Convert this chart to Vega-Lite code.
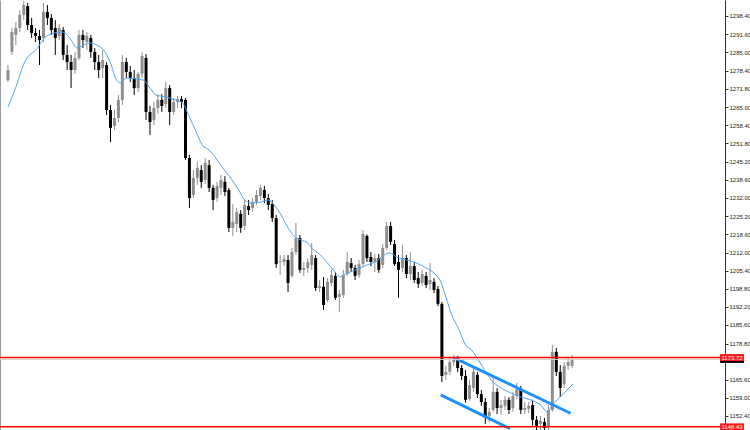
{
  "$schema": "https://vega.github.io/schema/vega-lite/v6.json",
  "width": 725,
  "height": 430,
  "autosize": "none",
  "padding": {"left": 0, "top": 0, "right": 25, "bottom": 0},
  "background": "white",
  "view": {"stroke": null},
  "config": {"font": "Liberation Sans"},
  "datasets": {
    "candles": [
      {"i":0,"o":1274.9,"h":1280.4,"l":1274.2,"c":1278.6},
      {"i":1,"o":1285.2,"h":1293.9,"l":1284.1,"c":1292.5},
      {"i":2,"o":1291.4,"h":1296.1,"l":1287.7,"c":1293.9},
      {"i":3,"o":1293.9,"h":1300.5,"l":1292.5,"c":1298.7},
      {"i":4,"o":1298.7,"h":1303.8,"l":1296.8,"c":1302.3},
      {"i":5,"o":1301.9,"h":1303.0,"l":1293.2,"c":1295.0},
      {"i":6,"o":1295.0,"h":1297.6,"l":1290.3,"c":1292.1},
      {"i":7,"o":1292.1,"h":1293.9,"l":1288.8,"c":1291.0},
      {"i":8,"o":1291.0,"h":1293.2,"l":1280.4,"c":1289.5},
      {"i":9,"o":1290.3,"h":1303.0,"l":1288.8,"c":1299.8},
      {"i":10,"o":1299.8,"h":1302.3,"l":1295.0,"c":1297.6},
      {"i":11,"o":1297.6,"h":1299.0,"l":1291.4,"c":1293.2},
      {"i":12,"o":1293.9,"h":1296.8,"l":1284.1,"c":1290.3},
      {"i":13,"o":1291.0,"h":1295.4,"l":1289.5,"c":1293.9},
      {"i":14,"o":1293.2,"h":1294.3,"l":1282.2,"c":1284.1},
      {"i":15,"o":1284.1,"h":1287.7,"l":1278.6,"c":1281.5},
      {"i":16,"o":1281.5,"h":1284.1,"l":1272.0,"c":1278.6},
      {"i":17,"o":1278.6,"h":1285.2,"l":1277.2,"c":1283.0},
      {"i":18,"o":1283.0,"h":1293.2,"l":1282.2,"c":1291.4},
      {"i":19,"o":1291.4,"h":1293.2,"l":1286.6,"c":1289.5},
      {"i":20,"o":1288.8,"h":1292.5,"l":1285.9,"c":1291.0},
      {"i":21,"o":1290.3,"h":1291.4,"l":1283.0,"c":1285.2},
      {"i":22,"o":1285.2,"h":1286.6,"l":1278.6,"c":1281.5},
      {"i":23,"o":1281.5,"h":1284.1,"l":1275.7,"c":1278.6},
      {"i":24,"o":1279.3,"h":1285.9,"l":1275.7,"c":1282.2},
      {"i":25,"o":1280.4,"h":1281.5,"l":1262.2,"c":1264.0},
      {"i":26,"o":1264.0,"h":1265.8,"l":1252.3,"c":1257.5},
      {"i":27,"o":1258.2,"h":1264.0,"l":1256.7,"c":1261.1},
      {"i":28,"o":1261.1,"h":1269.5,"l":1259.6,"c":1267.7},
      {"i":29,"o":1267.7,"h":1284.1,"l":1265.8,"c":1281.5},
      {"i":30,"o":1281.5,"h":1283.0,"l":1275.7,"c":1277.9},
      {"i":31,"o":1277.9,"h":1280.1,"l":1274.2,"c":1275.7},
      {"i":32,"o":1275.7,"h":1278.6,"l":1269.5,"c":1272.0},
      {"i":33,"o":1272.0,"h":1277.9,"l":1270.6,"c":1277.2},
      {"i":34,"o":1277.2,"h":1285.2,"l":1275.7,"c":1283.7},
      {"i":35,"o":1283.0,"h":1284.4,"l":1260.4,"c":1263.3},
      {"i":36,"o":1263.3,"h":1265.5,"l":1254.9,"c":1259.6},
      {"i":37,"o":1260.4,"h":1266.9,"l":1258.5,"c":1264.7},
      {"i":38,"o":1264.7,"h":1269.8,"l":1262.6,"c":1267.7},
      {"i":39,"o":1267.7,"h":1269.8,"l":1263.3,"c":1265.5},
      {"i":40,"o":1266.2,"h":1274.2,"l":1264.7,"c":1272.0},
      {"i":41,"o":1272.0,"h":1273.1,"l":1258.5,"c":1263.3},
      {"i":42,"o":1263.3,"h":1268.4,"l":1262.2,"c":1266.9},
      {"i":43,"o":1266.9,"h":1269.1,"l":1264.7,"c":1268.0},
      {"i":44,"o":1268.0,"h":1269.1,"l":1264.7,"c":1266.9},
      {"i":45,"o":1267.7,"h":1268.4,"l":1245.8,"c":1246.5},
      {"i":46,"o":1246.5,"h":1247.6,"l":1228.3,"c":1231.9},
      {"i":47,"o":1233.0,"h":1242.1,"l":1231.9,"c":1239.2},
      {"i":48,"o":1239.2,"h":1245.1,"l":1236.7,"c":1242.9},
      {"i":49,"o":1242.1,"h":1243.9,"l":1235.6,"c":1237.8},
      {"i":50,"o":1238.5,"h":1246.5,"l":1237.0,"c":1244.7},
      {"i":51,"o":1243.9,"h":1245.8,"l":1234.1,"c":1235.6},
      {"i":52,"o":1235.6,"h":1236.7,"l":1227.5,"c":1231.2},
      {"i":53,"o":1231.9,"h":1237.8,"l":1230.5,"c":1236.3},
      {"i":54,"o":1235.6,"h":1240.3,"l":1233.0,"c":1238.5},
      {"i":55,"o":1237.8,"h":1239.9,"l":1232.6,"c":1234.1},
      {"i":56,"o":1234.8,"h":1235.6,"l":1219.5,"c":1221.0},
      {"i":57,"o":1221.0,"h":1229.7,"l":1218.1,"c":1223.2},
      {"i":58,"o":1222.4,"h":1228.3,"l":1219.5,"c":1226.8},
      {"i":59,"o":1226.1,"h":1227.5,"l":1219.2,"c":1221.0},
      {"i":60,"o":1221.7,"h":1231.2,"l":1220.2,"c":1229.4},
      {"i":61,"o":1229.0,"h":1231.2,"l":1225.7,"c":1227.5},
      {"i":62,"o":1228.3,"h":1231.9,"l":1226.8,"c":1230.5},
      {"i":63,"o":1230.5,"h":1234.8,"l":1229.4,"c":1233.0},
      {"i":64,"o":1232.6,"h":1236.7,"l":1231.2,"c":1235.6},
      {"i":65,"o":1234.8,"h":1236.3,"l":1230.1,"c":1231.9},
      {"i":66,"o":1231.9,"h":1233.4,"l":1227.5,"c":1229.4},
      {"i":67,"o":1229.7,"h":1231.2,"l":1223.2,"c":1224.6},
      {"i":68,"o":1224.6,"h":1225.7,"l":1206.4,"c":1207.8},
      {"i":69,"o":1208.6,"h":1211.1,"l":1203.8,"c":1208.9},
      {"i":70,"o":1208.6,"h":1211.1,"l":1207.1,"c":1209.7},
      {"i":71,"o":1209.3,"h":1211.1,"l":1197.6,"c":1200.9},
      {"i":72,"o":1203.5,"h":1213.7,"l":1202.8,"c":1212.2},
      {"i":73,"o":1212.2,"h":1222.8,"l":1211.1,"c":1217.3},
      {"i":74,"o":1217.3,"h":1218.4,"l":1204.6,"c":1205.7},
      {"i":75,"o":1205.7,"h":1208.6,"l":1203.5,"c":1206.4},
      {"i":76,"o":1206.4,"h":1210.0,"l":1204.6,"c":1208.6},
      {"i":77,"o":1207.5,"h":1215.5,"l":1205.7,"c":1211.1},
      {"i":78,"o":1210.0,"h":1211.1,"l":1198.0,"c":1199.1},
      {"i":79,"o":1199.1,"h":1202.0,"l":1197.6,"c":1199.8},
      {"i":80,"o":1199.5,"h":1203.1,"l":1191.1,"c":1192.9},
      {"i":81,"o":1194.7,"h":1202.7,"l":1194.0,"c":1201.3},
      {"i":82,"o":1200.9,"h":1205.7,"l":1199.8,"c":1203.8},
      {"i":83,"o":1203.5,"h":1204.9,"l":1194.7,"c":1195.5},
      {"i":84,"o":1195.8,"h":1198.4,"l":1190.3,"c":1196.9},
      {"i":85,"o":1196.5,"h":1205.7,"l":1195.5,"c":1203.8},
      {"i":86,"o":1204.2,"h":1212.2,"l":1203.5,"c":1208.6},
      {"i":87,"o":1208.2,"h":1210.0,"l":1204.9,"c":1206.4},
      {"i":88,"o":1206.4,"h":1207.5,"l":1202.0,"c":1203.5},
      {"i":89,"o":1203.8,"h":1209.3,"l":1202.7,"c":1207.8},
      {"i":90,"o":1207.8,"h":1220.2,"l":1207.1,"c":1218.8},
      {"i":91,"o":1218.1,"h":1218.6,"l":1208.6,"c":1210.0},
      {"i":92,"o":1210.4,"h":1212.2,"l":1207.1,"c":1208.6},
      {"i":93,"o":1208.6,"h":1211.5,"l":1204.9,"c":1210.0},
      {"i":94,"o":1210.0,"h":1211.5,"l":1204.6,"c":1205.7},
      {"i":95,"o":1207.5,"h":1215.1,"l":1206.4,"c":1213.7},
      {"i":96,"o":1213.7,"h":1223.2,"l":1213.0,"c":1221.7},
      {"i":97,"o":1221.7,"h":1223.2,"l":1214.8,"c":1215.9},
      {"i":98,"o":1215.1,"h":1216.6,"l":1207.1,"c":1207.8},
      {"i":99,"o":1208.6,"h":1211.1,"l":1195.5,"c":1205.7},
      {"i":100,"o":1206.4,"h":1214.8,"l":1204.9,"c":1210.0},
      {"i":101,"o":1210.0,"h":1211.1,"l":1202.7,"c":1204.2},
      {"i":102,"o":1204.2,"h":1212.2,"l":1202.0,"c":1207.1},
      {"i":103,"o":1207.1,"h":1208.6,"l":1200.9,"c":1202.0},
      {"i":104,"o":1202.7,"h":1204.9,"l":1199.1,"c":1200.6},
      {"i":105,"o":1200.9,"h":1205.7,"l":1199.8,"c":1204.2},
      {"i":106,"o":1203.5,"h":1204.9,"l":1199.1,"c":1200.2},
      {"i":107,"o":1200.6,"h":1208.2,"l":1198.4,"c":1202.0},
      {"i":108,"o":1201.3,"h":1202.7,"l":1197.3,"c":1198.4},
      {"i":109,"o":1198.7,"h":1199.8,"l":1192.5,"c":1193.3},
      {"i":110,"o":1193.3,"h":1194.0,"l":1164.8,"c":1167.0},
      {"i":111,"o":1167.4,"h":1170.7,"l":1165.5,"c":1168.5},
      {"i":112,"o":1168.5,"h":1173.6,"l":1167.4,"c":1172.1},
      {"i":113,"o":1172.1,"h":1174.7,"l":1170.7,"c":1173.6},
      {"i":114,"o":1173.6,"h":1174.3,"l":1168.5,"c":1169.9},
      {"i":115,"o":1169.9,"h":1171.0,"l":1165.5,"c":1167.0},
      {"i":116,"o":1167.0,"h":1169.2,"l":1157.2,"c":1158.3},
      {"i":117,"o":1158.6,"h":1165.5,"l":1158.0,"c":1163.7},
      {"i":118,"o":1162.6,"h":1170.3,"l":1161.2,"c":1168.5},
      {"i":119,"o":1167.4,"h":1168.5,"l":1159.0,"c":1160.4},
      {"i":120,"o":1160.4,"h":1161.9,"l":1156.1,"c":1157.5},
      {"i":121,"o":1157.5,"h":1159.0,"l":1149.5,"c":1151.7},
      {"i":122,"o":1152.4,"h":1155.3,"l":1150.2,"c":1153.9},
      {"i":123,"o":1154.6,"h":1166.6,"l":1153.9,"c":1161.2},
      {"i":124,"o":1161.2,"h":1162.6,"l":1153.1,"c":1155.3},
      {"i":125,"o":1155.3,"h":1158.3,"l":1152.8,"c":1156.4},
      {"i":126,"o":1156.1,"h":1159.7,"l":1154.6,"c":1158.3},
      {"i":127,"o":1158.3,"h":1159.3,"l":1153.1,"c":1154.6},
      {"i":128,"o":1155.3,"h":1161.2,"l":1153.9,"c":1159.7},
      {"i":129,"o":1159.7,"h":1164.5,"l":1158.6,"c":1162.2},
      {"i":130,"o":1161.9,"h":1163.4,"l":1153.1,"c":1154.6},
      {"i":131,"o":1154.6,"h":1157.5,"l":1153.1,"c":1155.3},
      {"i":132,"o":1155.0,"h":1157.5,"l":1153.5,"c":1156.1},
      {"i":133,"o":1156.4,"h":1158.3,"l":1148.8,"c":1151.0},
      {"i":134,"o":1151.0,"h":1152.4,"l":1147.3,"c":1148.8},
      {"i":135,"o":1149.5,"h":1152.4,"l":1147.3,"c":1150.6},
      {"i":136,"o":1150.2,"h":1151.7,"l":1146.9,"c":1148.0},
      {"i":137,"o":1148.8,"h":1156.4,"l":1147.3,"c":1154.6},
      {"i":138,"o":1154.6,"h":1178.3,"l":1153.9,"c":1175.8},
      {"i":139,"o":1175.8,"h":1177.2,"l":1167.0,"c":1168.5},
      {"i":140,"o":1168.5,"h":1171.0,"l":1159.3,"c":1162.6},
      {"i":141,"o":1164.1,"h":1172.1,"l":1162.6,"c":1170.7},
      {"i":142,"o":1170.7,"h":1173.6,"l":1169.2,"c":1172.1},
      {"i":143,"o":1170.7,"h":1174.7,"l":1169.9,"c":1172.8}
    ],
    "ma": [
      {"i":0,"v":1265.11},{"i":1.75,"v":1271.31},{"i":4.25,"v":1281.52},{"i":7.5,"v":1286.62},
      {"i":9.25,"v":1290.27},{"i":11.75,"v":1292.09},{"i":13.5,"v":1292.46},{"i":14.75,"v":1291.73},
      {"i":16,"v":1289.54},{"i":17.5,"v":1286.62},{"i":19.25,"v":1287.72},{"i":21,"v":1288.45},
      {"i":22.5,"v":1287.72},{"i":24.25,"v":1285.89},{"i":26,"v":1281.15},{"i":27.5,"v":1274.95},
      {"i":28.5,"v":1273.86},{"i":30,"v":1275.68},{"i":32.5,"v":1275.32},{"i":34.25,"v":1274.95},
      {"i":36,"v":1272.04},{"i":37.5,"v":1269.48},{"i":40,"v":1268.76},{"i":42.5,"v":1267.66},
      {"i":44.25,"v":1266.57},{"i":46,"v":1261.46},{"i":47.5,"v":1256.72},{"i":49.25,"v":1251.25},
      {"i":51,"v":1249.43},{"i":52.5,"v":1246.87},{"i":54.25,"v":1243.22},{"i":56.25,"v":1239.58},
      {"i":58.5,"v":1234.84},{"i":60,"v":1231.19},{"i":61.75,"v":1230.10},{"i":64.25,"v":1230.46},
      {"i":66,"v":1231.19},{"i":67.5,"v":1229.37},{"i":69.25,"v":1225.72},{"i":71,"v":1220.98},
      {"i":72.5,"v":1218.06},{"i":74.25,"v":1216.60},{"i":76,"v":1215.51},{"i":77.5,"v":1212.95},
      {"i":79.25,"v":1211.13},{"i":81,"v":1208.21},{"i":82.5,"v":1205.66},{"i":84.25,"v":1203.11},
      {"i":85,"v":1203.84},{"i":86.75,"v":1204.93},{"i":89.25,"v":1206.39},{"i":91,"v":1207.48},
      {"i":93.5,"v":1208.94},{"i":95,"v":1210.77},{"i":96.75,"v":1211.86},{"i":98.5,"v":1210.40},
      {"i":101,"v":1209.31},{"i":103.5,"v":1208.21},{"i":106,"v":1206.39},{"i":108.5,"v":1203.84},
      {"i":109.75,"v":1201.28},{"i":111,"v":1195.81},{"i":112.5,"v":1189.25},{"i":114.25,"v":1184.15},
      {"i":116,"v":1178.31},{"i":117.5,"v":1176.49},{"i":119.25,"v":1172.84},{"i":121.25,"v":1168.10},
      {"i":122.5,"v":1165.54},{"i":125,"v":1162.63},{"i":127.5,"v":1160.80},{"i":130,"v":1159.34},
      {"i":132.5,"v":1158.25},{"i":135,"v":1156.43},{"i":136.75,"v":1153.88},{"i":138,"v":1156.43},
      {"i":139.75,"v":1158.98},{"i":141.75,"v":1161.90},{"i":143.25,"v":1164.09}
    ],
    "channel": [
      {"seg":"lower","i":109.7,"v":1160.07},{"seg":"lower","i":127.25,"v":1147.78},
      {"seg":"upper","i":113.4,"v":1173.45},{"seg":"upper","i":142.6,"v":1153.4}
    ],
    "levels": [
      {"v":1173.72,"t":"1173.72"},{"v":1148.43,"t":"1148.43"}
    ],
    "bid": [{"v":1173.03,"t":"1173.03"}]
  },
  "resolve": {"axis": {"y": "independent"}},
  "layer": [
    {
      "data": {"name":"candles"},
      "mark": {"type":"rule","strokeWidth":1,"clip":true},
      "encoding": {
        "x": {"field":"i","type":"quantitative","scale":{"domain":[-0.75,180.5],"nice":false,"zero":false},"axis":null},
        "y": {"field":"l","type":"quantitative","scale":{"domain":[1147.29,1304.13],"nice":false,"zero":false},
              "axis":{"orient":"left","labels":false,"ticks":false,"grid":false,"title":null,"domainColor":"#9a9a9a","domainWidth":1}},
        "y2": {"field":"h"},
        "color": {"condition":{"test":"datum.c >= datum.o","value":"#8f8f8f"},"value":"#000000"}
      }
    },
    {
      "data": {"name":"candles"},
      "mark": {"type":"bar","width":3,"clip":true},
      "encoding": {
        "x": {"field":"i","type":"quantitative","axis":null},
        "y": {"field":"o","type":"quantitative","axis":null},
        "y2": {"field":"c"},
        "color": {"condition":{"test":"datum.c >= datum.o","value":"#8f8f8f"},"value":"#000000"}
      }
    },
    {
      "data": {"name":"ma"},
      "mark": {"type":"line","color":"#4ea6f5","strokeWidth":1,"interpolate":"monotone","clip":true},
      "encoding": {
        "x": {"field":"i","type":"quantitative","axis":null},
        "y": {"field":"v","type":"quantitative","axis":null}
      }
    },
    {
      "data": {"name":"channel"},
      "mark": {"type":"line","color":"#1e90ff","strokeWidth":3,"clip":true},
      "encoding": {
        "x": {"field":"i","type":"quantitative","axis":null},
        "y": {"field":"v","type":"quantitative","axis":null},
        "detail": {"field":"seg"}
      }
    },
    {
      "data": {"name":"bid"},
      "mark": {"type":"rule","color":"#d8d0d0","strokeWidth":1},
      "encoding": {
        "y": {"field":"v","type":"quantitative","axis":null}
      }
    },
    {
      "data": {"name":"levels"},
      "mark": {"type":"rule","color":"#ff0000","strokeWidth":1.5},
      "encoding": {
        "y": {"field":"v","type":"quantitative",
              "axis":{"orient":"right","values":[1152.4,1159.0,1165.6,1178.8,1185.6,1192.2,1198.8,1205.4,1212.0,1218.6,1225.2,1232.0,1238.6,1245.2,1251.8,1258.4,1265.0,1271.8,1278.4,1285.0,1291.6,1298.4],
                      "format":".2f","labelFontSize":6,"labelFont":"Liberation Sans","labelColor":"#222222","labelPadding":1,
                      "tickSize":3,"tickColor":"#333333","domainColor":"#333333","grid":false,"title":null,"labelBound":false,"labelOverlap":false}}
      }
    },
    {
      "data": {"name":"bid"},
      "mark": {"type":"tick","orient":"horizontal","color":"#000000","thickness":7,"size":24,"opacity":1},
      "encoding": {
        "x": {"datum":183.55,"type":"quantitative"},
        "y": {"field":"v","type":"quantitative","axis":null}
      }
    },
    {
      "data": {"name":"levels"},
      "mark": {"type":"tick","orient":"horizontal","color":"#ff1a1a","thickness":7,"size":24,"opacity":1},
      "encoding": {
        "x": {"datum":183.55,"type":"quantitative"},
        "y": {"field":"v","type":"quantitative","axis":null}
      }
    },
    {
      "data": {"name":"levels"},
      "mark": {"type":"text","color":"#ffffff","fontSize":6,"font":"Liberation Sans","align":"center","baseline":"middle"},
      "encoding": {
        "x": {"datum":183.55,"type":"quantitative"},
        "y": {"field":"v","type":"quantitative","axis":null},
        "text": {"field":"t"}
      }
    }
  ]
}
